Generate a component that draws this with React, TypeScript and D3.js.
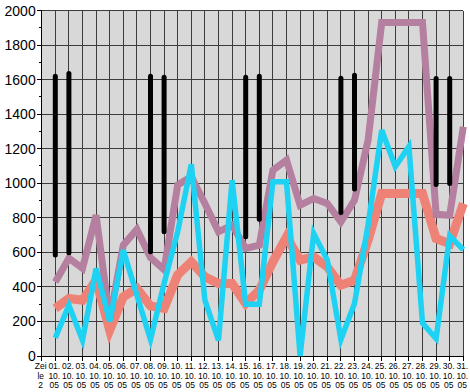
import React, { useEffect, useRef } from 'react';
import * as d3 from 'd3';

const svgWidth = 470;
const svgHeight = 392;
const margin = { top: 10.5, right: 6.7, bottom: 36, left: 41.7 };

// categories: "Zeile 2" then the days of October 2005
const categories = [
  'Zeile 2', '01.10.05', '02.10.05', '03.10.05', '04.10.05', '05.10.05', '06.10.05', '07.10.05',
  '08.10.05', '09.10.05', '10.10.05', '11.10.05', '12.10.05', '13.10.05', '14.10.05', '15.10.05',
  '16.10.05', '17.10.05', '18.10.05', '19.10.05', '20.10.05', '21.10.05', '22.10.05', '23.10.05',
  '24.10.05', '25.10.05', '26.10.05', '27.10.05', '28.10.05', '29.10.05', '30.10.05', '31.10.05',
];

const mauveValues = [
  null, 429, 566, 508, 815, 210, 642, 733, 570, 500, 990, 1038, 883, 719, 758, 623,
  642, 1076, 1134, 873, 912, 883, 777, 902, 1250, 1930, 1930, 1930, 1930, 820, 815, 1327,
];

const salmonValues = [
  null, 275, 333, 323, 439, 149, 342, 391, 290, 275, 470, 545, 458, 420, 420, 304,
  381, 545, 690, 555, 574, 516, 410, 439, 671, 941, 941, 941, 941, 680, 650, 883,
];

const cyanValues = [
  null, 105, 294, 91, 507, 200, 613, 352, 95, 420, 720, 1110, 323, 91, 1018, 300,
  300, 1009, 1009, 0, 710, 555, 95, 304, 760, 1308, 1096, 1212, 190, 100, 695, 615,
];

// weekend high-low bars
const barHigh = [
  null, 1620, 1635, null, null, null, null, null, 1620, 1614, null, null, null, null, null, 1614,
  1620, null, null, null, null, null, 1608, 1625, null, null, null, null, null, 1606, 1606, null,
];
const barLow = [
  null, 585, 597, null, null, null, null, null, 603, 719, null, null, null, null, null, 690,
  791, null, null, null, null, null, 831, 966, null, null, null, null, null, 993, 999, null,
];

const yTicks = [0, 200, 400, 600, 800, 1000, 1200, 1400, 1600, 1800, 2000];
const yMinorTicks = [100, 300, 500, 700, 900, 1100, 1300, 1500, 1700, 1900];

const font = '"Liberation Sans", Arial, sans-serif';

const labelLines = (c: string) =>
  c === 'Zeile 2' ? ['Zei', 'le', '2'] : c.split('.').map((s, i, a) => (i < a.length - 1 ? s + '.' : s));

const App = () => {
  const ref = useRef<SVGSVGElement>(null);

  useEffect(() => {
    document.body.style.margin = '0';
    const svg = d3.select(ref.current);
    svg.selectAll('*').remove();

    const x = d3
      .scalePoint<string>()
      .domain(categories)
      .range([margin.left, svgWidth - margin.right]);
    const y = d3
      .scaleLinear()
      .domain([0, 2000])
      .range([svgHeight - margin.bottom, margin.top]);

    const x0 = margin.left;
    const x1 = svgWidth - margin.right;

    // plot background
    svg
      .append('rect')
      .attr('x', x0)
      .attr('y', y(2000))
      .attr('width', x1 - x0)
      .attr('height', y(0) - y(2000))
      .attr('fill', '#d8d8d8');

    // grid
    const grid = svg.append('g').attr('stroke', '#3c3c3c').attr('stroke-width', 1).attr('shape-rendering', 'crispEdges');
    grid
      .selectAll('line.h')
      .data(yTicks)
      .enter()
      .append('line')
      .attr('x1', x0)
      .attr('x2', x1)
      .attr('y1', d => y(d))
      .attr('y2', d => y(d));
    grid
      .selectAll('line.v')
      .data(categories)
      .enter()
      .append('line')
      .attr('x1', d => x(d)!)
      .attr('x2', d => x(d)!)
      .attr('y1', y(0))
      .attr('y2', y(2000));

    // axes
    const axis = svg.append('g').attr('stroke', '#000').attr('shape-rendering', 'crispEdges');
    axis.append('line').attr('x1', x0).attr('x2', x0).attr('y1', y(0)).attr('y2', y(2000));
    axis.append('line').attr('x1', x0).attr('x2', x1).attr('y1', y(0)).attr('y2', y(0));
    axis
      .selectAll('line.yt')
      .data(yTicks)
      .enter()
      .append('line')
      .attr('x1', x0 - 5)
      .attr('x2', x0)
      .attr('y1', d => y(d))
      .attr('y2', d => y(d));
    axis
      .selectAll('line.ym')
      .data(yMinorTicks)
      .enter()
      .append('line')
      .attr('x1', x0 - 3)
      .attr('x2', x0)
      .attr('y1', d => y(d))
      .attr('y2', d => y(d));
    axis
      .selectAll('line.xt')
      .data(categories)
      .enter()
      .append('line')
      .attr('x1', d => x(d)!)
      .attr('x2', d => x(d)!)
      .attr('y1', y(0))
      .attr('y2', y(0) + 5);

    // y labels
    svg
      .append('g')
      .selectAll('text')
      .data(yTicks)
      .enter()
      .append('text')
      .attr('x', x0 - 6)
      .attr('y', d => y(d))
      .attr('dy', '0.36em')
      .attr('text-anchor', 'end')
      .attr('font-family', font)
      .attr('font-size', 14)
      .text(d => d);

    // x labels
    const xl = svg
      .append('g')
      .selectAll('text')
      .data(categories)
      .enter()
      .append('text')
      .attr('text-anchor', 'middle')
      .attr('font-family', font)
      .attr('font-size', 8.5);
    xl.each(function (d) {
      const t = d3.select(this);
      labelLines(d).forEach((s, i) => {
        t.append('tspan')
          .attr('x', x(d)! - 1)
          .attr('y', y(0) + 13 + i * 9.6)
          .text(s);
      });
    });

    const line = d3
      .line<number | null>()
      .defined(d => d !== null)
      .x((_, i) => x(categories[i])!)
      .y(d => y(d as number));

    const drawSeries = (values: (number | null)[], color: string, width: number) =>
      svg
        .append('path')
        .attr('d', line(values))
        .attr('fill', 'none')
        .attr('stroke', color)
        .attr('stroke-width', width)
        .attr('stroke-linejoin', 'miter');

    drawSeries(salmonValues, '#ee8277', 9);
    drawSeries(mauveValues, '#b57f9f', 7);
    drawSeries(cyanValues, '#1ed2f4', 5.5);

    // high-low bars
    svg
      .append('g')
      .selectAll('line')
      .data(categories.map((c, i) => ({ c, hi: barHigh[i], lo: barLow[i] })).filter(d => d.hi !== null))
      .enter()
      .append('line')
      .attr('x1', d => x(d.c)!)
      .attr('x2', d => x(d.c)!)
      .attr('y1', d => y(d.hi as number))
      .attr('y2', d => y(d.lo as number))
      .attr('stroke', '#000')
      .attr('stroke-width', 5)
      .attr('stroke-linecap', 'round');
  }, []);

  return <svg ref={ref} width={svgWidth} height={svgHeight} style={{ display: 'block' }} />;
};

export default App;
